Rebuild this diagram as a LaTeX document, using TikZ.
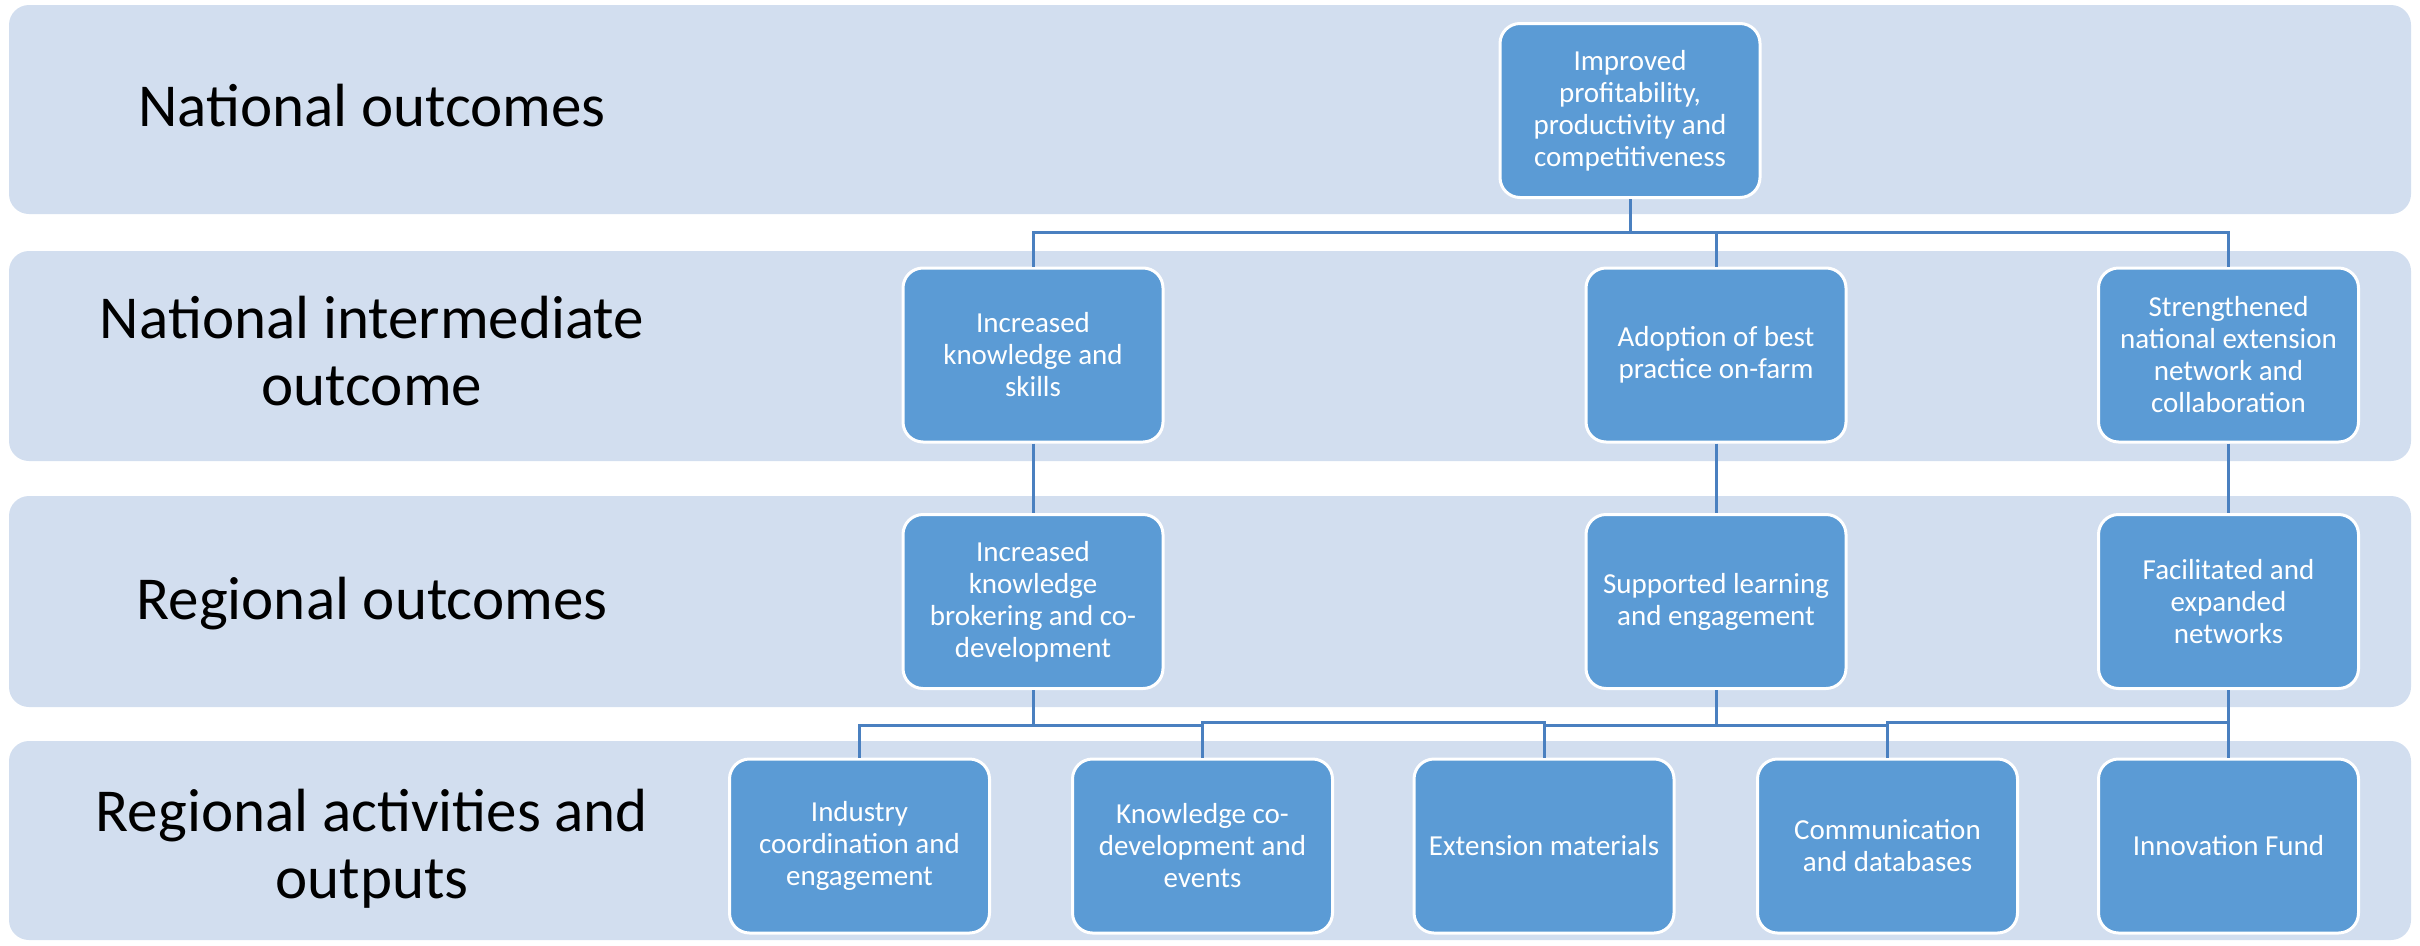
\documentclass[tikz,border=0pt]{standalone}
\usepackage{fontspec}
\setmainfont{Carlito}
\definecolor{bandfill}{HTML}{D2DEEF}
\definecolor{boxfill}{HTML}{5B9BD5}
\definecolor{linkcol}{HTML}{4A80C0}
\begin{document}
\begin{tikzpicture}[x=1pt,y=-1pt,
  band/.style={fill=bandfill,draw=none,rounded corners=20pt},
  bandlabel/.style={font=\fontsize{61}{67}\selectfont,align=center,text=black,inner sep=0pt},
  obox/.style={rectangle,rounded corners=20pt,fill=boxfill,draw=white,line width=3pt,
    minimum width=260pt,minimum height=174pt,inner sep=0pt,
    font=\fontsize{29}{32}\selectfont,text=white,align=center},
  link/.style={draw=linkcol,line width=3pt}]
\useasboundingbox (0,0) rectangle (2420,945);
% bands
\path[band] (9,5) rectangle (2411,214);
\path[band] (9,251) rectangle (2411,461);
\path[band] (9,496) rectangle (2411,707);
\path[band] (9,741) rectangle (2411,940);
% band labels
\node[bandlabel] (l1) at (372,106) {National outcomes};
\node[bandlabel] (l2) at (372,351.5) {National intermediate\\outcome};
\node[bandlabel] (l3) at (372,604) {Regional outcomes};
\node[bandlabel] (l4) at (372,849) {Regional activities and\\outputs};
% boxes
\node[obox] (top) at (1630,110.5) {Improved\\profitability,\\productivity and\\competitiveness};
\node[obox] (n1) at (1033,355) {Increased\\knowledge and\\skills};
\node[obox] (n2) at (1716,355) {Adoption of best\\practice on-farm};
\node[obox] (n3) at (2228.5,355) {Strengthened\\national extension\\network and\\collaboration};
\node[obox] (r1) at (1033,601.5) {Increased\\knowledge\\brokering and co-\\development};
\node[obox] (r2) at (1716,601.5) {Supported learning\\and engagement};
\node[obox] (r3) at (2228.5,601.5) {Facilitated and\\expanded\\networks};
\node[obox] (a1) at (859.5,846) {Industry\\coordination and\\engagement};
\node[obox] (a2) at (1202.5,846) {Knowledge co-\\development and\\events};
\node[obox] (a3) at (1544,846) {Extension materials};
\node[obox] (a4) at (1887.5,846) {Communication\\and databases};
\node[obox] (a5) at (2228.5,846) {Innovation Fund};
% bus coordinates
\coordinate (busA) at (0,232);
\coordinate (busB) at (0,725);
\coordinate (busC) at (0,722);
% connectors
\draw[link] (top.south) -- (top.south |- busA) -| (n1.north);
\draw[link] (top.south) -- (top.south |- busA) -| (n2.north);
\draw[link] (top.south) -- (top.south |- busA) -| (n3.north);
\draw[link] (n1.south) -- (r1.north);
\draw[link] (n2.south) -- (r2.north);
\draw[link] (n3.south) -- (r3.north);
\draw[link] (r1.south) -- (r1.south |- busB) -| (a1.north);
\draw[link] (r1.south) -- (r1.south |- busB) -| (a2.north);
\draw[link] (r2.south) -- (r2.south |- busB) -| (a3.north);
\draw[link] (r2.south) -- (r2.south |- busB) -| (a4.north);
\draw[link] (a2.north) -- (a2.north |- busC) -| (a3.north);
\draw[link] (a4.north) -- (a4.north |- busC) -| (r3.south);
\draw[link] (r3.south) -- (a5.north);
\end{tikzpicture}
\end{document}
